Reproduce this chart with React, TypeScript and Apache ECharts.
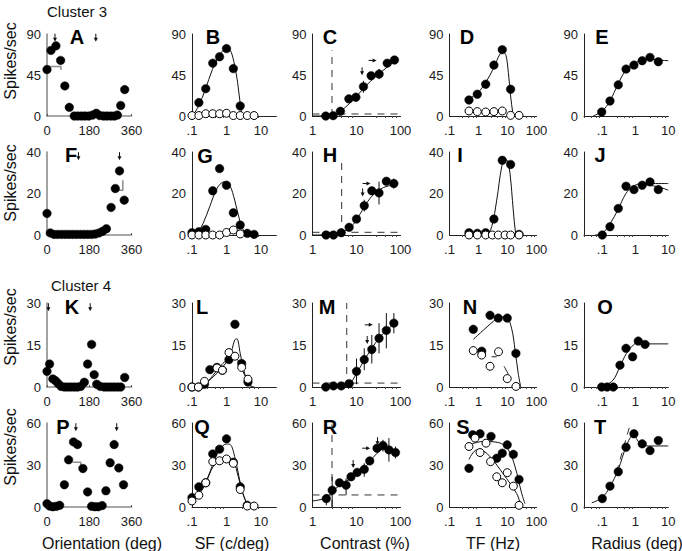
import React, { useEffect, useRef } from 'react';
import * as echarts from 'echarts';

type Pt = [number, number];
type Err = [number, number, number];
type Arw = [number, number, number]; // x, y, dir (0 = down, 1 = right)

// ---------------- tick labels / axis extents ----------------
const yMaxByRow = [90, 40, 30, 60];
const oriTicks = [0, 180, 360];
const sfRange: Pt = [0.1, 28];
const conRange: Pt = [1, 100];
const tfRange: Pt = [0.1, 100];
const radRange: Pt = [0.0279, 10];

// ---------------- Orientation (deg) ----------------
const aFilled: Pt[] = [[0, 51], [17, 72], [38, 77], [58, 61], [76, 33], [95, 9.5], [116, 0], [131, 0], [147, 0], [162, 0], [178, 0], [194, 1], [210, 3], [225, 0.5], [241, 0], [256, 0], [272, 0], [287, 0], [300, 1], [314, 11.5], [331, 29]];
const aBracket: Pt[] = [[0, 54.4], [59, 54.4], [60, 50.6]];
const aArrows: Arw[] = [[34, 86, 0], [208, 86, 0]];

const fFilled: Pt[] = [[0, 10.4], [14, 1], [30, 0.3], [46, 0.3], [62, 0.3], [78, 0.3], [94, 0.3], [110, 0.3], [126, 0.3], [142, 0.3], [158, 0.3], [174, 0.3], [190, 0.3], [206, 0.5], [222, 1], [237, 1.8], [253, 3], [273, 13.3], [291, 22.4], [309, 30.9], [329, 16.8]];
const fBracket: Pt[] = [[295, 21.6], [323, 21.6], [323, 26.4]];
const fArrows: Arw[] = [[134, 38, 0], [309, 38, 0]];

const kFilled: Pt[] = [[0, 5.6], [11, 8.2], [25, 2.9], [37, 2.2], [48, 1.2], [60, 0.2], [74, 0], [88, 0], [102, 0], [116, 0], [130, 0], [144, 0.2], [159, 1.7], [173, 8.2], [190, 15.2], [201, 4.4], [212, 1], [227, 0.2], [244, 0], [258, 0], [272, 0], [286, 0], [300, 0], [314, 0], [331, 3.4]];
const kArrows: Arw[] = [[6, 28.5, 0], [184, 28.5, 0]];

const pFilled: Pt[] = [[0, 2.4], [11, 0.7], [25, 0.2], [40, 0.5], [54, 1.2], [74, 15.9], [92, 33.7], [113, 46.5], [130, 44.6], [153, 27.5], [173, 10.8], [190, 0.5], [204, 0.2], [218, 0.2], [235, 1], [251, 11.6], [269, 31.6], [286, 44.6], [306, 27.9], [326, 15.9]];
const pBracket: Pt[] = [[109, 32], [144, 32], [144, 29.6]];
const pArrows: Arw[] = [[123, 57, 0], [297, 57, 0]];

// ---------------- SF (c/deg) ----------------
const bFilled: Pt[] = [[0.158, 14.7], [0.25, 30], [0.4, 58], [0.63, 65], [1, 74], [1.58, 52], [2.5, 11]];
const bOpen: Pt[] = [[0.1, 0.5], [0.158, 0.5], [0.25, 2.5], [0.4, 2.5], [0.63, 2.5], [1, 3], [1.58, 0.5], [2.5, 0.5], [4, 0.5], [6.3, 0.5]];
const bFit: Pt[] = [[0.105, 0], [0.16, 12], [0.243, 29], [0.39, 51], [0.63, 67], [1, 74], [1.25, 73], [1.63, 60], [2.1, 37], [2.55, 11], [2.9, 0]];

const gFilled: Pt[] = [[0.1, 1.1], [0.158, 1.6], [0.25, 2.7], [0.4, 21.3], [0.63, 32], [1, 24], [1.58, 10.7], [2.5, 4.8], [4, 0.8], [6.3, 0.3]];
const gOpen: Pt[] = [[0.1, 0], [0.158, 0], [0.25, 0], [0.4, 0], [0.63, 0], [1, 1.2], [1.58, 2.4], [2.5, 0.5]];
const gFit: Pt[] = [[0.134, 0], [0.21, 5.6], [0.325, 13.6], [0.51, 22], [0.71, 25.1], [0.885, 25.6], [1.24, 24], [1.73, 16.8], [2.4, 7.2], [3.37, 0.8], [3.8, 0]];

const lFilled: Pt[] = [[0.1, 0], [0.153, 0], [0.23, 1], [0.33, 6.2], [0.53, 7], [0.76, 6], [1.18, 9.8], [1.76, 22.4], [2.75, 8.4], [4.2, 1.8]];
const lOpen: Pt[] = [[0.1, 0], [0.153, 0], [0.23, 2], [0.53, 6.8], [0.76, 6], [1.18, 12.3], [1.76, 11], [2.75, 7], [4.2, 2.8]];
const lFitA: Pt[] = [[0.19, 0], [0.41, 3.6], [0.71, 6.6], [1.24, 10.8], [1.73, 16.8], [2.0, 17.2], [2.5, 12], [3.37, 4.8], [4.7, 0.6], [6.5, 0]];
const lFitB: Pt[] = [[0.21, 0], [0.41, 4.2], [0.63, 7.2], [1, 9.6], [1.38, 11], [2.15, 9.6], [3.37, 4.2], [5.25, 0.3]];

const qFilled: Pt[] = [[0.1, 6.7], [0.158, 14.4], [0.25, 17.3], [0.4, 37.9], [0.63, 41.3], [1, 48.7], [1.58, 32], [2.5, 14.4], [4, 1.2]];
const qOpen: Pt[] = [[0.1, 4.3], [0.158, 8.4], [0.25, 17.3], [0.4, 32.4], [0.63, 33], [1, 34.3], [1.58, 31.2], [2.5, 12.5], [4, 0.7], [6.3, 0.7]];
const qFitA: Pt[] = [[0.1, 6], [0.167, 13], [0.26, 19], [0.41, 31], [0.63, 41], [1, 45], [1.29, 44.6], [1.73, 36], [2.3, 21.6], [3.0, 9.6], [4.2, 1.2], [5.25, 0]];
const qFitB: Pt[] = [[0.1, 4.8], [0.167, 9.6], [0.26, 18], [0.41, 28.8], [0.63, 32.4], [1, 34], [1.58, 32.4], [2.2, 21.6], [3.0, 9.6], [4.2, 1.2], [5.25, 0]];

// ---------------- Contrast (%) ----------------
const cFilled: Pt[] = [[2, 0], [2.95, 0.4], [4.3, 5.2], [6.7, 18.8], [9.7, 20.6], [14.4, 32.2], [21.5, 44.2], [32.7, 46], [50, 58], [73, 61.5]];
const cErr: Err[] = [[9.7, 16, 25.5], [14.4, 25.5, 38.6], [32.7, 40.5, 51.7], [6.7, 16.5, 21]];
const cFit: Pt[] = [[1, 0], [2, 0.2], [2.95, 1.1], [4.55, 6], [7.06, 14.2], [10.9, 23.6], [16.8, 33.7], [26, 42.4], [40, 49.9], [62, 57.4], [80.5, 61.1]];
const cDashV: Pt[] = [[2.77, 0], [2.77, 72]];
const cDashH: Pt[] = [[1, 2.2], [100, 2.2]];
const cArrows: Arw[] = [[13.4, 49, 0], [24.5, 61, 1]];

const hFilled: Pt[] = [[2.03, 0], [3, 0], [4.5, 1.1], [6.8, 3.7], [10, 7.7], [15, 14.1], [22.3, 21.3], [32.5, 20.3], [47.7, 25.9], [70.7, 24.8]];
const hErr: Err[] = [[15, 11.3, 17], [32.5, 14.7, 25.7], [70.7, 22.4, 27.2], [47.7, 24.6, 27.3], [10, 6.5, 9], [22.3, 19.5, 23]];
const hFit: Pt[] = [[1, 0], [2, 0.1], [3, 0.4], [4.5, 1.3], [6.8, 3.2], [10, 7.2], [15, 13.6], [22.3, 18.7], [33.7, 21.9], [50, 23.5], [73, 24]];
const hDashV: Pt[] = [[4.6, 0], [4.6, 37.6]];
const hDashH: Pt[] = [[1, 1.3], [100, 1.3]];
const hArrows: Arw[] = [[13.8, 20.5, 0], [17.8, 24.8, 1]];

const mFilled: Pt[] = [[2, 0], [3, 0.4], [4.5, 0.4], [6.8, 1.2], [10, 5.6], [15, 9.8], [22.3, 13.4], [32.5, 17.4], [47.7, 20.2], [70.7, 22.8]];
const mErr: Err[] = [[10, 1, 10.2], [15, 6, 13.8], [22.3, 8.4, 18.6], [32.5, 12, 22.8], [47.7, 13.8, 26.4], [70.7, 19.2, 26.4]];
const mFit: Pt[] = [[2, 0], [3, 0.2], [4.5, 0.4], [6.8, 1], [10, 4.8], [15, 9.6], [22.3, 13.8], [33.7, 17.8], [50, 20.4], [73, 22.8]];
const mDashV: Pt[] = [[6, 0], [6, 30]];
const mDashH: Pt[] = [[1, 1.4], [100, 1.4]];
const mArrows: Arw[] = [[17.5, 16.8, 0], [20, 22.2, 1]];

const rFilled: Pt[] = [[2.06, 6], [2.8, 12], [4.1, 17.3], [5.8, 15.6], [7.5, 21.6], [10.4, 24.7], [15, 26.9], [20, 32.9], [29.3, 42], [40, 43.9], [54.6, 40.8], [77, 38.9]];
const rErr: Err[] = [[2.06, 1.2, 8.4], [2.8, 0, 21.6], [5.8, 8.4, 20.4], [7.5, 18.5, 24], [10.4, 21.6, 27.6], [15, 21.6, 31.2], [20, 30, 36], [40, 39.6, 48], [54.6, 32.4, 49.2], [77, 34.8, 43.2]];
const rFit: Pt[] = [[1, 4.3], [2.06, 6.7], [3.6, 14], [7.3, 20.4], [10.4, 24], [15, 27.6], [20, 32.4], [29.3, 38.4], [40, 41.2], [55, 41.2], [77, 39.6]];
const rDashV: Pt[] = [[2.77, 0], [2.77, 59]];
const rDashH: Pt[] = [[1, 8.6], [100, 8.6]];
const rArrows: Arw[] = [[8.4, 30.7, 0], [17.5, 42, 1], [30, 47, 0]];

// ---------------- TF (Hz) ----------------
const dFilled: Pt[] = [[0.47, 17.6], [0.91, 23.9], [1.77, 34.9], [3.4, 55.9], [6.6, 72.8], [12.8, 29.4]];
const dOpen: Pt[] = [[0.47, 5.5], [0.91, 4.8], [1.77, 4.4], [3.4, 4.8], [6.6, 5.5], [12.8, 0.7], [25, 0.7]];
const dFit: Pt[] = [[0.47, 19], [0.91, 25], [1.77, 36.8], [3.4, 53.3], [5.5, 68], [7.2, 69.9], [8.9, 66.2], [10.7, 47.8], [12.8, 22], [15.2, 3.7], [16.7, 0]];

const iFilled: Pt[] = [[0.47, 1.1], [0.91, 0.8], [1.77, 1.1], [3.4, 7.7], [6.6, 36], [12.8, 34], [25, 0.3]];
const iOpen: Pt[] = [[0.47, 0], [0.91, 0], [1.77, 0], [3.0, 0], [4.8, 0], [8.2, 0], [12.8, 0], [25, 0]];
const iFit: Pt[] = [[0.47, 0], [1.9, 0.3], [2.85, 4], [4.25, 16.8], [6.3, 32.8], [8.2, 36.3], [9.8, 36], [12.2, 29.6], [15.8, 12], [19, 0.8], [20.7, 0]];

const nFilled: Pt[] = [[0.66, 20.6], [1.29, 12.8], [2.5, 25.6], [4.8, 24.6], [9.8, 24.6], [19.5, 12]];
const nOpen: Pt[] = [[0.66, 13], [1.29, 11.4], [2.5, 7.4], [4.9, 12.6], [9.8, 3], [19.5, 0.2]];
const nFitA: Pt[] = [[0.66, 17], [3.2, 23.4], [5, 24.8], [9, 25], [13.8, 21], [18.2, 13.2], [23.5, 4.8], [28.5, 0]];
const nFitB1: Pt[] = [[2.85, 10.8], [4.25, 10.8]];
const nFitB2: Pt[] = [[7.6, 7.4], [10.7, 4.6]];

const sFilled: Pt[] = [[0.47, 27.6], [0.63, 51.6], [1.13, 52.3], [2.7, 50.4], [4.25, 34.8], [6.6, 38.4], [9.8, 44.4], [15.9, 37.6], [25, 19.7]];
const sOpen: Pt[] = [[0.47, 43.2], [0.76, 49.2], [1.13, 38.9], [1.82, 45.6], [2.6, 32.4], [4.25, 21.6], [6.6, 17.3], [9.8, 24.5], [15.9, 14.9], [25, 1.2]];
const sFitA: Pt[] = [[0.49, 44.4], [1.38, 46.8], [5, 46], [10.7, 40.8], [18.2, 28.8], [31, 9.6], [40, 2.4]];
const sFitB: Pt[] = [[0.47, 34], [0.87, 40.8], [1.38, 40.3], [2.8, 34.8], [6.9, 24], [20.7, 9.6], [28.5, 1.2]];

// ---------------- Radius (deg) ----------------
const eFilled: Pt[] = [[0.096, 4.4], [0.171, 16.5], [0.305, 34.2], [0.524, 51.5], [0.91, 55.9], [1.62, 60.7], [2.79, 64.3], [4.98, 59.6]];
const eFit: Pt[] = [[0.053, 0], [0.1, 5.5], [0.17, 16.5], [0.3, 35], [0.52, 50.7], [0.9, 57.7], [1.62, 61.4], [2.8, 62.5], [5, 61.4], [10, 60.7]];

const jFilled: Pt[] = [[0.1, 0], [0.171, 4], [0.305, 12.8], [0.524, 23.5], [0.91, 21.9], [1.62, 24], [2.79, 25.6], [4.98, 21.9]];
const jFitA: Pt[] = [[0.06, 0], [0.1, 0.8], [0.17, 5.3], [0.3, 12.3], [0.52, 20], [0.87, 23.5], [1.62, 24.8], [2.8, 24.8], [10, 24.8]];
const jFitB: Pt[] = [[1.62, 24.5], [5, 23.2], [10, 21.6]];

const oFilled: Pt[] = [[0.096, 0], [0.14, 0], [0.215, 0], [0.343, 7.8], [0.524, 13.8], [0.83, 10.8], [1.23, 16.4], [1.97, 15.2]];
const oFit: Pt[] = [[0.1, 0], [0.21, 2.4], [0.34, 7.2], [0.54, 12], [0.87, 15], [1.23, 15.8], [1.97, 15.4], [10, 15.4]];

const tFilled: Pt[] = [[0.1, 6], [0.171, 14.9], [0.305, 25.2], [0.524, 42.7], [0.91, 52.3], [1.62, 45.1], [2.79, 40.3], [4.98, 47.5]];
const tFit: Pt[] = [[0.048, 3], [0.1, 6.7], [0.17, 14.4], [0.3, 26.4], [0.55, 44.3], [0.87, 51.4], [1.39, 45.5], [2.5, 43.6], [10, 43.6]];
const tDash: Pt[] = [[0.27, 25], [0.72, 60]];

// ---------------- texts ----------------
const xTitles = ['Orientation (deg)', 'SF (c/deg)', 'Contrast (%)', 'TF (Hz)', 'Radius (deg)'];
const yTitle = 'Spikes/sec';
const clusterLabels = ['Cluster 3', 'Cluster 4'];

interface Panel {
  letter: string;
  col: number;
  row: number;
  filled: Pt[];
  open?: Pt[];
  fits?: Pt[][];
  dashed?: Pt[][];
  gray?: Pt[][];
  errs?: Err[];
  arrows?: Arw[];
}

const panels: Panel[] = [
  { letter: 'A', col: 0, row: 0, filled: aFilled, gray: [aBracket], arrows: aArrows },
  { letter: 'B', col: 1, row: 0, filled: bFilled, open: bOpen, fits: [bFit] },
  { letter: 'C', col: 2, row: 0, filled: cFilled, fits: [cFit], dashed: [cDashV, cDashH], errs: cErr, arrows: cArrows },
  { letter: 'D', col: 3, row: 0, filled: dFilled, open: dOpen, fits: [dFit] },
  { letter: 'E', col: 4, row: 0, filled: eFilled, fits: [eFit] },
  { letter: 'F', col: 0, row: 1, filled: fFilled, gray: [fBracket], arrows: fArrows },
  { letter: 'G', col: 1, row: 1, filled: gFilled, open: gOpen, fits: [gFit] },
  { letter: 'H', col: 2, row: 1, filled: hFilled, fits: [hFit], dashed: [hDashV, hDashH], errs: hErr, arrows: hArrows },
  { letter: 'I', col: 3, row: 1, filled: iFilled, open: iOpen, fits: [iFit] },
  { letter: 'J', col: 4, row: 1, filled: jFilled, fits: [jFitA, jFitB] },
  { letter: 'K', col: 0, row: 2, filled: kFilled, arrows: kArrows },
  { letter: 'L', col: 1, row: 2, filled: lFilled, open: lOpen, fits: [lFitA, lFitB] },
  { letter: 'M', col: 2, row: 2, filled: mFilled, fits: [mFit], dashed: [mDashV, mDashH], errs: mErr, arrows: mArrows },
  { letter: 'N', col: 3, row: 2, filled: nFilled, open: nOpen, fits: [nFitA, nFitB1, nFitB2] },
  { letter: 'O', col: 4, row: 2, filled: oFilled, fits: [oFit] },
  { letter: 'P', col: 0, row: 3, filled: pFilled, gray: [pBracket], arrows: pArrows },
  { letter: 'Q', col: 1, row: 3, filled: qFilled, open: qOpen, fits: [qFitA, qFitB] },
  { letter: 'R', col: 2, row: 3, filled: rFilled, fits: [rFit], dashed: [rDashV, rDashH], errs: rErr, arrows: rArrows },
  { letter: 'S', col: 3, row: 3, filled: sFilled, open: sOpen, fits: [sFitA, sFitB] },
  { letter: 'T', col: 4, row: 3, filled: tFilled, fits: [tFit], dashed: [tDash] },
];

// ---------------- layout (pixels) ----------------
const colBox = [
  { left: 47, width: 84.5 },
  { left: 192, width: 84.4 },
  { left: 312.5, width: 88 },
  { left: 449.5, width: 87 },
  { left: 584, width: 84.3 },
];
const rowBox = [
  { top: 34, height: 82 },
  { top: 152, height: 83 },
  { top: 303, height: 84 },
  { top: 423, height: 84 },
];
const letterPos: Record<string, Pt> = {
  A: [77, 37], B: [213, 37], C: [330, 37], D: [467, 37], E: [602, 37],
  F: [71, 155], G: [205, 156], H: [330, 155], I: [460, 155], J: [600, 155],
  K: [72, 307], L: [202, 307], M: [327, 307], N: [470, 307], O: [605, 307],
  P: [63, 427], Q: [202, 427], R: [330, 427], S: [463, 427], T: [600, 427],
};
const yTitleY = [61, 183, 327, 447];
const xTitleX = [102, 232, 365, 493, 637];

const FONT = '"Liberation Sans", Arial, Helvetica, sans-serif';

function logFmt(v: number): string {
  const e = Math.log10(v);
  if (Math.abs(e - Math.round(e)) > 1e-6) return '';
  if (Math.abs(v - 0.1) < 1e-9) return '.1';
  return String(Math.round(v));
}

function buildOption(): any {
  const grid: any[] = [];
  const xAxis: any[] = [];
  const yAxis: any[] = [];
  const series: any[] = [];
  const ranges = [null, sfRange, conRange, tfRange, radRange];

  panels.forEach((p, i) => {
    const cb = colBox[p.col];
    const rb = rowBox[p.row];
    grid.push({ left: cb.left, top: rb.top, width: cb.width, height: rb.height, containLabel: false });
    const axisColor = p.col === 0 ? '#8c8c8c' : '#222';
    const axisWidth = p.col === 0 ? 1.6 : 1;
    const labelStyle = { fontSize: 13, color: '#1a1a1a', fontFamily: FONT };
    if (p.col === 0) {
      xAxis.push({
        type: 'value', gridIndex: i, min: oriTicks[0], max: oriTicks[2], interval: oriTicks[1] - oriTicks[0],
        axisLine: { show: true, onZero: false, lineStyle: { color: axisColor, width: axisWidth } },
        axisTick: { show: true, inside: true, length: 2, lineStyle: { color: '#555' } },
        splitLine: { show: false },
        axisLabel: { ...labelStyle, margin: 8 },
      });
    } else {
      const r = ranges[p.col] as Pt;
      xAxis.push({
        type: 'log', logBase: 10, gridIndex: i, min: r[0], max: r[1],
        axisLine: { show: true, onZero: false, lineStyle: { color: axisColor, width: axisWidth } },
        axisTick: { show: false },
        minorTick: { show: true, splitNumber: 5, length: 2, lineStyle: { color: '#444' } },
        splitLine: { show: false },
        minorSplitLine: { show: false },
        axisLabel: { ...labelStyle, margin: 8, formatter: logFmt },
      });
    }
    const ymax = yMaxByRow[p.row];
    yAxis.push({
      type: 'value', gridIndex: i, min: 0, max: ymax, interval: ymax / 2,
      axisLine: { show: true, onZero: false, lineStyle: { color: axisColor, width: axisWidth } },
      axisTick: { show: false },
      splitLine: { show: false },
      axisLabel: { ...labelStyle, margin: 6 },
    });

    const ax = { xAxisIndex: i, yAxisIndex: i, silent: true };
    (p.gray || []).forEach((d) => {
      series.push({ ...ax, type: 'line', data: d, symbol: 'none', lineStyle: { color: '#8c8c8c', width: 1.5 }, z: 2 });
    });
    (p.dashed || []).forEach((d) => {
      series.push({ ...ax, type: 'line', data: d, symbol: 'none', lineStyle: { color: '#333', width: 1, type: [7, 6] }, z: 2 });
    });
    (p.fits || []).forEach((d) => {
      series.push({ ...ax, type: 'line', data: d, symbol: 'none', smooth: 0.35, lineStyle: { color: '#111', width: 1 }, z: 2 });
    });
    if (p.errs) {
      series.push({
        ...ax, type: 'custom', data: p.errs, encode: { x: 0, y: [1, 2] }, z: 3, clip: false,
        renderItem: (_params: any, api: any) => {
          const a = api.coord([api.value(0), api.value(1)]);
          const b = api.coord([api.value(0), api.value(2)]);
          return { type: 'line', shape: { x1: a[0], y1: a[1], x2: b[0], y2: b[1] }, style: { stroke: '#111', lineWidth: 1 } };
        },
      });
    }
    series.push({
      ...ax, type: 'scatter', data: p.filled, symbol: 'circle', symbolSize: 8.5, clip: false, z: 4,
      itemStyle: { color: '#000', borderColor: '#000', borderWidth: 0.5, opacity: 1 },
    });
    if (p.open) {
      series.push({
        ...ax, type: 'scatter', data: p.open, symbol: 'circle', symbolSize: 8, clip: false, z: 5,
        itemStyle: { color: '#fff', borderColor: '#000', borderWidth: 1, opacity: 1 },
      });
    }
    if (p.arrows) {
      series.push({
        ...ax, type: 'custom', data: p.arrows, encode: { x: 0, y: 1 }, z: 6, clip: false,
        renderItem: (_params: any, api: any) => {
          const c = api.coord([api.value(0), api.value(1)]);
          const dir = api.value(2);
          const st = { stroke: '#111', lineWidth: 1 };
          if (dir === 0) {
            return {
              type: 'group', children: [
                { type: 'line', shape: { x1: c[0], y1: c[1] - 4, x2: c[0], y2: c[1] + 1 }, style: st },
                { type: 'polygon', shape: { points: [[c[0] - 2, c[1]], [c[0] + 2, c[1]], [c[0], c[1] + 4]] }, style: { fill: '#111' } },
              ],
            };
          }
          return {
            type: 'group', children: [
              { type: 'line', shape: { x1: c[0] - 5, y1: c[1], x2: c[0], y2: c[1] }, style: st },
              { type: 'polygon', shape: { points: [[c[0] - 1, c[1] - 2], [c[0] - 1, c[1] + 2], [c[0] + 3, c[1]]] }, style: { fill: '#111' } },
            ],
          };
        },
      });
    }
  });

  const graphic: any[] = [];
  panels.forEach((p) => {
    const pos = letterPos[p.letter];
    graphic.push({
      type: 'text', x: pos[0], y: pos[1], silent: true,
      style: { text: p.letter, font: `bold 20px ${FONT}`, fill: '#000', textAlign: 'center', textVerticalAlign: 'middle' },
    });
  });
  yTitleY.forEach((y) => {
    graphic.push({
      type: 'text', x: 10, y, rotation: Math.PI / 2, silent: true,
      style: { text: yTitle, font: `16px ${FONT}`, fill: '#111', textAlign: 'center', textVerticalAlign: 'middle' },
    });
  });
  xTitles.forEach((t, i) => {
    graphic.push({
      type: 'text', x: xTitleX[i], y: 543, silent: true,
      style: { text: t, font: `16px ${FONT}`, fill: '#111', textAlign: 'center', textVerticalAlign: 'middle' },
    });
  });
  graphic.push({
    type: 'text', x: 77, y: 11, silent: true,
    style: { text: clusterLabels[0], font: `15px ${FONT}`, fill: '#111', textAlign: 'center', textVerticalAlign: 'middle' },
  });
  graphic.push({
    type: 'text', x: 81, y: 285, silent: true,
    style: { text: clusterLabels[1], font: `15px ${FONT}`, fill: '#111', textAlign: 'center', textVerticalAlign: 'middle' },
  });

  return {
    animation: false,
    backgroundColor: '#fff',
    textStyle: { fontFamily: FONT },
    grid, xAxis, yAxis, series, graphic,
  };
}

export default function App() {
  const ref = useRef<HTMLDivElement>(null);
  useEffect(() => {
    if (!ref.current) return;
    const chart = echarts.init(ref.current, undefined, { renderer: 'svg' });
    chart.setOption(buildOption());
    return () => chart.dispose();
  }, []);
  return <div ref={ref} style={{ position: 'fixed', left: 0, top: 0, width: 682, height: 551, background: '#fff' }} />;
}
